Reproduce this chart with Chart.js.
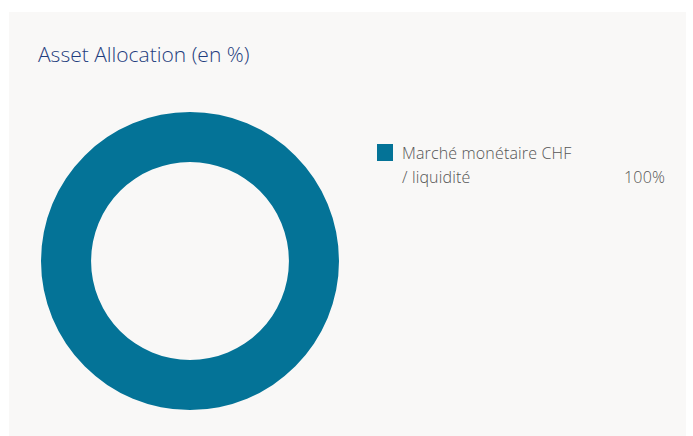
<!DOCTYPE html>
<html>
<head>
<meta charset="utf-8">
<script src="https://cdn.jsdelivr.net/npm/chart.js@4/dist/chart.umd.min.js"></script>
<style>
  html, body { margin: 0; padding: 0; background: #ffffff; width: 693px; height: 436px; overflow: hidden; }
  #panel { position: absolute; left: 9px; top: 12px; width: 677px; height: 424px; background: #f9f8f7; }
  #title { position: absolute; left: 38px; top: 40px; font-family: "Open Sans", sans-serif; font-weight: 300; font-size: 21px; color: #1f3d7e; white-space: nowrap; }
  #wrap { position: absolute; left: 41px; top: 112px; width: 298px; height: 298px; }
  #legend { position: absolute; left: 377px; top: 141px; font-family: "Open Sans", sans-serif; font-weight: 300; font-size: 16px; letter-spacing: 0.15px; color: #555555; }
  .item { position: relative; width: 288px; }
  .sw { position: absolute; left: 0; top: 3px; width: 16px; height: 17px; }
  .lbl { margin-left: 25px; line-height: 24px; width: 200px; }
  .val { position: absolute; right: 0; bottom: 0; line-height: 24px; }
</style>
</head>
<body>
<div id="panel"></div>
<div id="title"></div>
<div id="wrap"><canvas id="c"></canvas></div>
<div id="legend"></div>
<script>
const titleText = "Asset Allocation (en %)";
const categories = ["Marché monétaire CHF / liquidité"];
const labelLines = [["Marché monétaire CHF", "/ liquidité"]];
const values = [100];
const valueLabels = ["100%"];
const colors = ["#047397"];

document.getElementById("title").textContent = titleText;

new Chart(document.getElementById("c"), {
  type: "doughnut",
  data: {
    labels: categories,
    datasets: [{ data: values, backgroundColor: colors, borderWidth: 0, hoverOffset: 0 }]
  },
  options: {
    responsive: true,
    maintainAspectRatio: false,
    animation: false,
    cutout: "66.4%",
    layout: { padding: 0 },
    plugins: { legend: { display: false }, tooltip: { enabled: false }, title: { display: false } }
  }
});

const legend = document.getElementById("legend");
categories.forEach((c, i) => {
  const item = document.createElement("div");
  item.className = "item";
  const sw = document.createElement("div");
  sw.className = "sw";
  sw.style.background = colors[i];
  const lbl = document.createElement("div");
  lbl.className = "lbl";
  lbl.innerHTML = labelLines[i].map(s => s.replace(/&/g, "&amp;").replace(/</g, "&lt;")).join("<br>");
  const val = document.createElement("div");
  val.className = "val";
  val.textContent = valueLabels[i];
  item.appendChild(sw); item.appendChild(lbl); item.appendChild(val);
  legend.appendChild(item);
});
</script>
</body>
</html>
